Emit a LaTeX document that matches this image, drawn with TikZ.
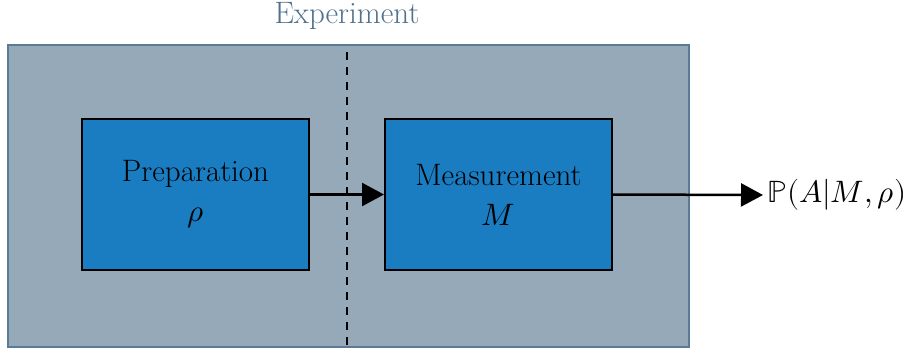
\documentclass[tikz,border=0pt]{standalone}
\usepackage{fontspec}
\usepackage{unicode-math}
\setmathfont{Latin Modern Math}
\usetikzlibrary{arrows.meta}
\definecolor{panelfill}{HTML}{95A9B9}
\definecolor{paneledge}{HTML}{5B7A95}
\definecolor{titletext}{HTML}{50708C}
\definecolor{blockfill}{HTML}{1A7CC1}
\tikzset{
  panel/.style={draw=paneledge, fill=panelfill, line width=1.5pt, inner sep=0pt},
  block/.style={draw=black, fill=blockfill, line width=2pt, align=center,
    minimum width=227pt, minimum height=151pt, inner sep=0pt},
  flow/.style={line width=2.5pt, -{Triangle[length=22pt, width=23pt]}},
  divider/.style={line width=2pt, dash pattern=on 8pt off 7pt},
}
\begin{document}
\begin{tikzpicture}[x=1pt, y=-1pt, font=\fontsize{31}{40}\selectfont]
\useasboundingbox (0,0) rectangle (909,349);
% experiment panel and its title
\node[panel, anchor=north west, minimum width=681pt, minimum height=302pt] (exp) at (7,44) {};
\node[text=titletext] (title) at (347,16) {Experiment};
% split between preparation and measurement
\coordinate (dtop) at (347,52);
\coordinate (dbot) at (347,349);
\draw[divider] (dtop) -- (dbot);
% the two stages
\node[block] (prep) at (195.5,194.5) {Preparation\\$\rho$};
\node[block] (meas) at (498.5,194.5) {Measurement\\$M$};
% outcome
\node[anchor=west, inner sep=0pt] (out) at (767,195) {$\mathbb{P}(A|M,\rho)$};
\draw[flow] (prep.east) -- (meas.west);
\draw[flow] (meas.east) -- ([xshift=-4pt]out.west);
\end{tikzpicture}
\end{document}
